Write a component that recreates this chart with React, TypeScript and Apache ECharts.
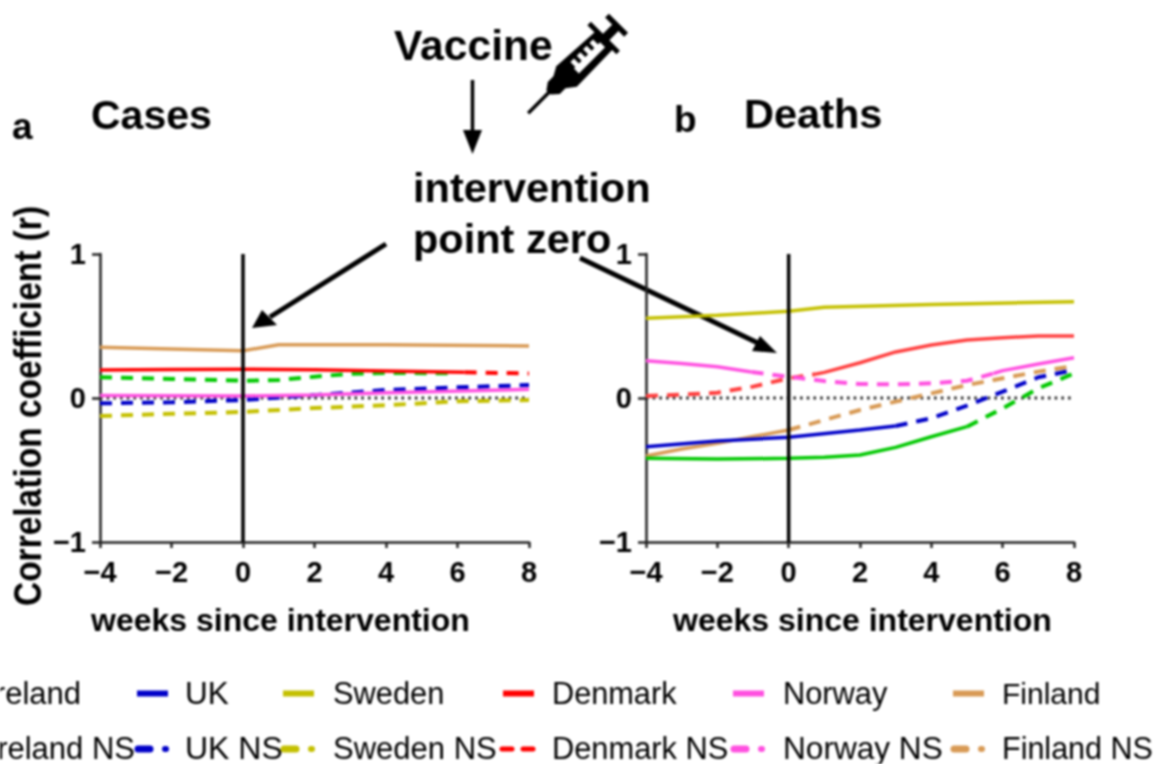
import React, { useEffect, useRef } from "react";
import * as echarts from "echarts";

const FONT = '"Liberation Sans", Arial, sans-serif';

const IRELAND = "#00c800";
const UK = "#0000c8";
const SWEDEN = "#c4c000";
const DENMARK = "#ff0000";
const NORWAY = "#ff50e0";
const FINLAND = "#d89a55";

const yTicks = [-1, 0, 1];

// Panel a: Cases
const casesFinland = [[-4, 0.352], [-2, 0.34], [0, 0.328], [1, 0.37], [4, 0.37], [8, 0.361]];
const casesDenmark = [[-4, 0.194], [-2, 0.198], [0, 0.2], [2, 0.197], [4, 0.188], [6.2, 0.178]];
const casesDenmarkNS = [[6.2, 0.178], [8, 0.17]];
const casesIrelandNS = [[-4, 0.144], [-2, 0.132], [0, 0.12], [1, 0.125], [2, 0.148], [3, 0.168], [4, 0.174], [5.8, 0.172]];
const casesUKNS = [[-4, -0.037], [-2, -0.03], [0, -0.014], [2, 0.02], [4, 0.056], [6, 0.074], [8, 0.09]];
const casesNorway = [[-4, 0.018], [0, 0.014], [2, 0.02], [4, 0.037], [8, 0.06]];
const casesSwedenNS = [[-4, -0.125], [-2, -0.11], [0, -0.097], [2, -0.07], [4, -0.05], [6, -0.023], [8, -0.014]];

// Panel b: Deaths
const deathsSweden = [[-4, 0.553], [-2, 0.575], [0, 0.602], [1, 0.63], [4, 0.65], [8, 0.669]];
const deathsDenmarkNS = [[-4, 0.014], [-3, 0.023], [-2, 0.037], [-1, 0.079], [0, 0.137], [0.74, 0.165]];
const deathsDenmark = [[0.74, 0.165], [1, 0.178], [2, 0.245], [3, 0.32], [4, 0.368], [5, 0.403], [6, 0.419], [7, 0.43], [8, 0.43]];
const deathsNorway = [[-4, 0.259], [-3, 0.24], [-2, 0.217], [-1.04, 0.18]];
const deathsNorwayNS = [[-1.04, 0.18], [0, 0.148], [1, 0.118], [2, 0.097], [3, 0.095], [4, 0.102], [5, 0.12], [5.74, 0.17]];
const deathsNorway2 = [[5.74, 0.17], [6, 0.19], [7, 0.236], [8, 0.28]];
const deathsFinland = [[-4, -0.403], [-3, -0.354], [-2, -0.315], [-1, -0.268], [0, -0.222]];
const deathsFinlandNS = [[0, -0.222], [1, -0.153], [2, -0.083], [3, -0.025], [4, 0.032], [5, 0.09], [6, 0.137], [7, 0.183], [8, 0.222]];
const deathsUK = [[-4, -0.338], [-2, -0.298], [0, -0.273], [2, -0.222], [3, -0.194]];
const deathsUKNS = [[3, -0.194], [4, -0.141], [5, -0.053], [6, 0.044], [7, 0.144], [8, 0.194]];
const deathsIreland = [[-4, -0.419], [-2, -0.424], [0, -0.419], [1, -0.412], [2, -0.396], [3, -0.343], [4, -0.269], [5, -0.199]];
const deathsIrelandNS = [[5, -0.199], [6, -0.072], [7, 0.067], [8, 0.171]];

const interventionLine = [[0, -1], [0, 1]];
const zeroLine = [[-4, 0], [8, 0]];

const legendNames = ["Ireland", "UK", "Sweden", "Denmark", "Norway", "Finland"];
const legendColors = [IRELAND, UK, SWEDEN, DENMARK, NORWAY, FINLAND];

function xAxis(gridIndex: number) {
  return {
    gridIndex,
    type: "value",
    min: -4,
    max: 8,
    interval: 2,
    splitLine: { show: false },
    axisLine: { onZero: false, lineStyle: { color: "#222", width: 2.5 } },
    axisTick: { length: 6, lineStyle: { color: "#222", width: 2.5 } },
    axisLabel: {
      color: "#000",
      fontFamily: FONT,
      fontWeight: "bold",
      fontSize: 29,
      margin: 15,
      formatter: (v: number) => String(v).replace("-", "\u2212"),
    },
  };
}

function yAxis(gridIndex: number) {
  return {
    gridIndex,
    type: "value",
    min: yTicks[0],
    max: yTicks[2],
    interval: 1,
    splitLine: { show: false },
    axisLine: { onZero: false, lineStyle: { color: "#222", width: 2.5 } },
    axisTick: { length: 8, lineStyle: { color: "#222", width: 2.5 } },
    axisLabel: {
      color: "#000",
      fontFamily: FONT,
      fontWeight: "bold",
      fontSize: 29,
      margin: 14,
      formatter: (v: number) => String(v).replace("-", "\u2212"),
    },
  };
}

function line(name: string, idx: number, data: number[][], color: string, dashed = false, width = 3.5) {
  return {
    name,
    type: "line",
    xAxisIndex: idx,
    yAxisIndex: idx,
    data,
    showSymbol: false,
    symbol: "none",
    silent: true,
    lineStyle: { color, width: dashed ? 4 : width, type: dashed ? [12, 9] : "solid", cap: "butt" },
  };
}

function guides(idx: number) {
  return [
    {
      type: "line", xAxisIndex: idx, yAxisIndex: idx, data: zeroLine, symbol: "none", silent: true,
      lineStyle: { color: "#222", width: 3, type: [2.5, 4.2] }, z: 1,
    },
    {
      type: "line", xAxisIndex: idx, yAxisIndex: idx, data: interventionLine, symbol: "none", silent: true,
      lineStyle: { color: "#000", width: 3.5 }, z: 5,
    },
  ];
}

function txt(text: string, x: number, y: number, fontSize: number, bold = true, extra: any = {}) {
  return {
    type: "text",
    x,
    y,
    silent: true,
    style: {
      text,
      fontFamily: FONT,
      fontSize,
      fontWeight: bold ? "bold" : "normal",
      fill: "#000",
      textVerticalAlign: "middle",
      ...extra,
    },
  };
}

function seg(x1: number, y1: number, x2: number, y2: number, color: string, lw: number, cap = "butt") {
  return {
    type: "line",
    silent: true,
    shape: { x1, y1, x2, y2 },
    style: { stroke: color, lineWidth: lw, lineCap: cap },
  };
}

function poly(points: number[][], fill: string) {
  return { type: "polygon", silent: true, shape: { points }, style: { fill } };
}

function barRect(u: number, v: number, w: number, h: number, fill: string) {
  return { type: "rect", silent: true, shape: { x: u, y: v, width: w, height: h }, style: { fill } };
}

function legendGraphics() {
  const keyX = [-12, 137, 283, 503, 733, 953];
  const textX = [81, 185, 333, 552, 783, 1002];
  const fontSizes = [31, 31.5, 30.8, 30.7, 30.8, 30];
  const nsSizes = [31, 32, 31, 30.8, 31.6, 30.5];
  const out: any[] = [];
  legendNames.forEach((n, i) => {
    const c = legendColors[i];
    if (i === 0) {
      out.push(txt(n, textX[0], 693, fontSizes[0], false, { textAlign: "right" }));
      out.push(txt(n + " NS", 135, 748, nsSizes[0], false, { textAlign: "right" }));
      return;
    }
    out.push(txt(n, textX[i], 693, fontSizes[i], false));
    out.push(txt(n + " NS", textX[i], 748, nsSizes[i], false));
    out.push(seg(keyX[i], 693.5, keyX[i] + 31, 693.5, c, 6));
    if (n === "Denmark") {
      out.push(seg(keyX[i] - 1, 749, keyX[i] + 9, 749, c, 5, "round"));
      out.push(seg(keyX[i] + 20, 749, keyX[i] + 30, 749, c, 5, "round"));
    } else {
      out.push(seg(keyX[i] + 1, 749, keyX[i] + 13, 749, c, 7, "round"));
      out.push(seg(keyX[i] + 28, 749, keyX[i] + 29, 749, c, 6, "round"));
    }
  });
  return out;
}

export default function App() {
  const ref = useRef<HTMLDivElement>(null);
  useEffect(() => {
    document.body.style.margin = "0";
    document.body.style.overflow = "hidden";
    const chart = echarts.init(ref.current!, undefined, { renderer: "svg" });
    chart.setOption({
      animation: false,
      backgroundColor: "#fff",
      grid: [
        { left: 100, top: 254, width: 429, height: 288 },
        { left: 646, top: 254, width: 428, height: 288 },
      ],
      xAxis: [xAxis(0), xAxis(1)],
      yAxis: [yAxis(0), yAxis(1)],
      series: [
        ...guides(0),
        line("Finland", 0, casesFinland, FINLAND),
        line("Ireland NS", 0, casesIrelandNS, IRELAND, true),
        line("Denmark", 0, casesDenmark, DENMARK),
        line("Denmark NS", 0, casesDenmarkNS, DENMARK, true),
        line("Sweden NS", 0, casesSwedenNS, SWEDEN, true),
        line("UK NS", 0, casesUKNS, UK, true),
        line("Norway", 0, casesNorway, NORWAY),
        ...guides(1),
        line("Sweden", 1, deathsSweden, SWEDEN),
        line("Finland", 1, deathsFinland, FINLAND),
        line("Finland NS", 1, deathsFinlandNS, FINLAND, true),
        line("Denmark NS", 1, deathsDenmarkNS, "#ff4040", true),
        line("Denmark", 1, deathsDenmark, "#ff4040"),
        line("Norway", 1, deathsNorway, NORWAY),
        line("Norway NS", 1, deathsNorwayNS, NORWAY, true),
        line("Norway", 1, deathsNorway2, NORWAY),
        line("Ireland", 1, deathsIreland, IRELAND),
        line("Ireland NS", 1, deathsIrelandNS, IRELAND, true),
        line("UK", 1, deathsUK, UK),
        line("UK NS", 1, deathsUKNS, UK, true),
      ],
      graphic: [
        txt("Vaccine", 394, 45, 42.6),
        txt("intervention", 413, 187, 41.5),
        txt("point zero", 413, 238, 41.5),
        txt("Cases", 91, 115, 41),
        txt("Deaths", 744, 113, 41.5),
        txt("a", 12, 126, 37),
        txt("b", 674, 119, 37),
        txt("weeks since intervention", 91, 620, 32),
        txt("weeks since intervention", 673, 620, 32),
        {
          type: "text", x: 28, y: 406, rotation: Math.PI / 2, scaleY: 1.15, silent: true,
          style: {
            text: "Correlation coefficient (r)", fontFamily: FONT, fontSize: 33.5, fontWeight: "bold",
            fill: "#000", textAlign: "center", textVerticalAlign: "middle",
          },
        },
        // Vaccine arrow
        seg(472.5, 80, 472.5, 135, "#000", 3.5),
        poly([[463, 130], [482, 130], [472.5, 154]], "#000"),
        // Arrow to panel a
        seg(386, 244, 270, 317, "#000", 5),
        poly([[252, 328], [262, 310], [277, 325]], "#000"),
        // Arrow to panel b
        seg(580, 258, 760, 344, "#000", 5),
        poly([[777, 353], [760, 336], [752, 351]], "#000"),
        // Syringe
        {
          type: "group",
          x: 528,
          y: 113,
          rotation: (45 * Math.PI) / 180,
          silent: true,
          children: [
            barRect(0, -1.5, 32, 3.5, "#000"),
            poly([[29, -3], [36, -8], [45, -8], [45, 9], [36, 9], [29, 3]], "#000"),
            poly([[44, -8], [53, -13], [105, -10], [105, 15], [53, 16], [44, 9]], "#000"),
            barRect(64, 1, 37, 7, "#fff"),
            barRect(66, -6, 5, 8, "#fff"),
            barRect(75, -6, 5, 8, "#fff"),
            barRect(84, -6, 5, 8, "#fff"),
            barRect(93, -6, 5, 8, "#fff"),
            barRect(104, -20, 5, 41, "#000"),
            barRect(108, -3, 16, 9, "#000"),
            barRect(122, -13, 5.5, 27, "#000"),
          ],
        },
        ...legendGraphics(),
      ],
    });
    return () => chart.dispose();
  }, []);
  return <div ref={ref} style={{ width: 1156, height: 764, filter: "blur(0.8px)" }} />;
}
